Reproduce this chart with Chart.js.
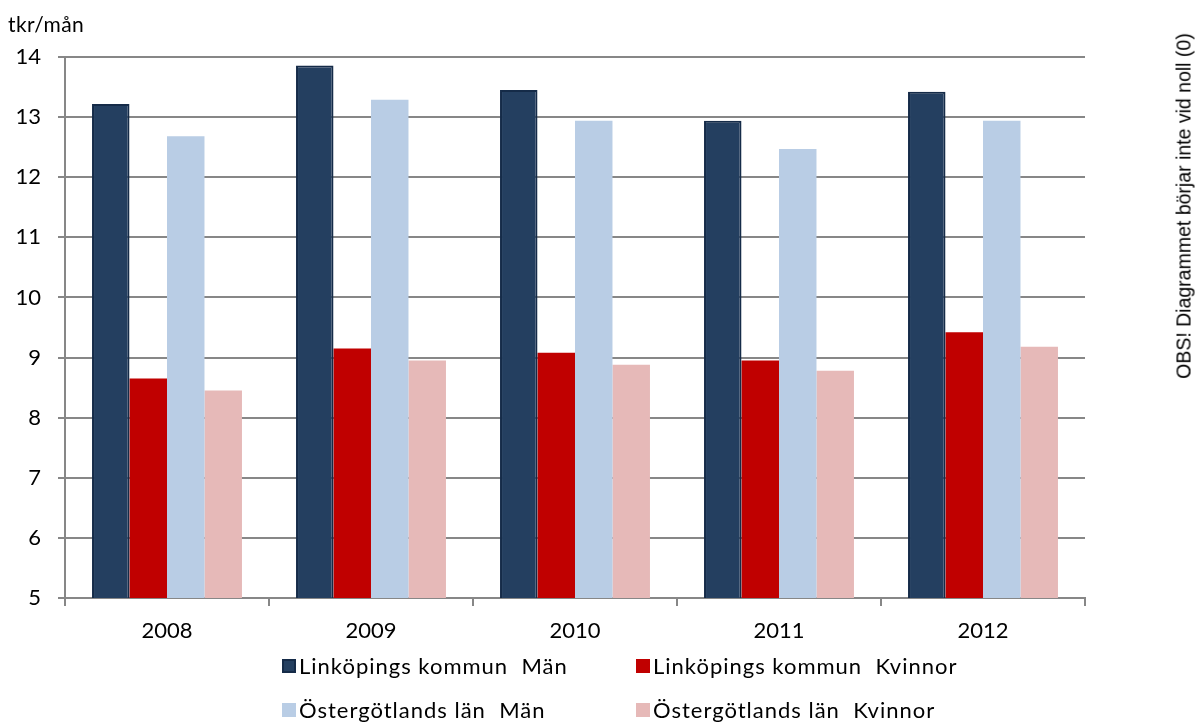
<!DOCTYPE html>
<html lang="sv">
<head>
  <meta charset="UTF-8">
  <title>tkr/mån</title>
  <script src="https://cdn.jsdelivr.net/npm/chart.js"></script>
  <style>
    body { margin: 0; background: #fff; font-family: Lato, sans-serif; }
    #wrap { position: relative; width: 1201px; height: 724px; }
    #unit { position: absolute; left: 8px; top: 11px; font-size: 21px; letter-spacing: 0.4px; color: #000; }
    #obs { position: absolute; left: 1184px; top: 206px; font-family: "Liberation Sans", Arial, sans-serif; font-size: 19.5px;
           white-space: nowrap; transform: translate(-50%, -50%) rotate(-90deg); color: #000; }
    .leg { position: absolute; font-size: 22px; letter-spacing: 1px; white-space: nowrap; display: flex; align-items: center; }
    .leg span.box { display: inline-block; width: 14px; height: 14px; margin-right: 3px; box-sizing: border-box; }
  </style>
</head>
<body>
  <div id="wrap">
    <canvas id="chart" width="1201" height="724"></canvas>
    <div id="unit">tkr/mån</div>
    <div id="obs">OBS! Diagrammet börjar inte vid noll (0)</div>
  </div>

  <script>
    const years = ['2008', '2009', '2010', '2011', '2012'];
    const linkMen = [13.22, 13.86, 13.45, 12.94, 13.42];
    const linkWomen = [8.65, 9.15, 9.08, 8.95, 9.42];
    const ostMen = [12.68, 13.29, 12.94, 12.47, 12.94];
    const ostWomen = [8.45, 8.95, 8.88, 8.78, 9.18];

    const grey = '#878787';

    const chart = new Chart(document.getElementById('chart'), {
      type: 'bar',
      data: {
        labels: years,
        datasets: [
          { label: 'Linköpings kommun  Män', data: linkMen, backgroundColor: '#243f60', borderColor: '#152b48', borderWidth: 2 },
          { label: 'Linköpings kommun  Kvinnor', data: linkWomen, backgroundColor: '#c00000', borderWidth: 0 },
          { label: 'Östergötlands län  Män', data: ostMen, backgroundColor: '#b9cde5', borderWidth: 0 },
          { label: 'Östergötlands län  Kvinnor', data: ostWomen, backgroundColor: '#e6b9b8', borderWidth: 0 }
        ]
      },
      options: {
        responsive: false,
        animation: false,
        categoryPercentage: 0.735,
        barPercentage: 1.0,
        layout: { padding: { left: 0, right: 116, top: 57, bottom: 0 } },
        plugins: { legend: { display: false }, tooltip: { enabled: false } },
        scales: {
          x: {
            offset: true,
            grid: { offset: true, drawOnChartArea: false, color: grey, lineWidth: 2, tickLength: 8 },
            border: { color: grey, width: 2 },
            ticks: { color: '#000', font: { family: 'Lato', size: 22 }, padding: 12 },
            afterFit: s => { s.height = 126; }
          },
          y: {
            min: 5, max: 14,
            grid: { color: grey, lineWidth: 2, tickLength: 7 },
            border: { color: grey, width: 2 },
            ticks: { stepSize: 1, color: '#000', font: { family: 'Lato', size: 22 }, padding: 17 },
            afterFit: s => { s.width = 65; }
          }
        }
      }
    });

    // legend in two rows, built from the datasets
    const legPos = [[282, 667], [636, 667], [282, 711], [636, 711]];
    chart.data.datasets.forEach((ds, i) => {
      const d = document.createElement('div');
      d.className = 'leg';
      d.style.left = legPos[i][0] + 'px';
      d.style.top = (legPos[i][1] - 15) + 'px';
      d.innerHTML = `<span class="box" style="background:${ds.backgroundColor};${ds.borderWidth ? 'border:2px solid ' + ds.borderColor : ''}"></span>${ds.label.replace(/ /g, '&nbsp;')}`;
      document.getElementById('wrap').appendChild(d);
    });
  </script>
</body>
</html>
